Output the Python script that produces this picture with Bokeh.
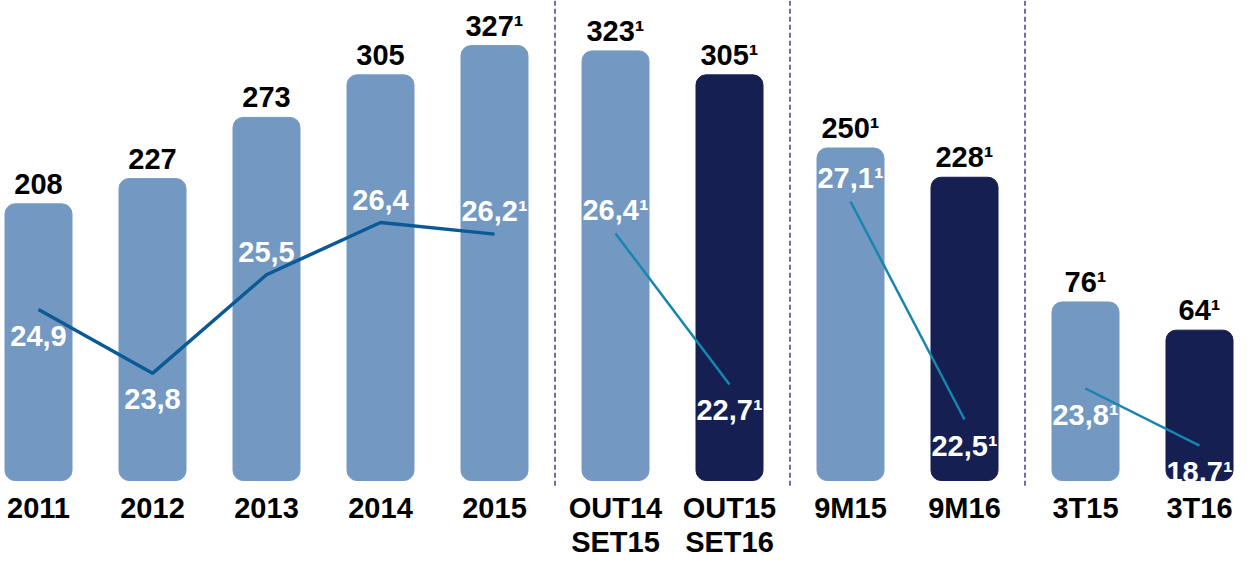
from bokeh.plotting import figure
from bokeh.models import FactorRange, Range1d, ColumnDataSource
from bokeh.core.properties import value
from bokeh.embed import file_html
from bokeh.resources import INLINE

# ---- data ----
GROUPS = ["Anual", "Out-Set", "9M", "3T"]
CATEGORIES = [
    ["2011", "2012", "2013", "2014", "2015"],
    ["OUT14\nSET15", "OUT15\nSET16"],
    ["9M15", "9M16"],
    ["3T15", "3T16"],
]
BAR_VALUES = [[208, 227, 273, 305, 327], [323, 305], [250, 228], [76, 64]]
LINE_VALUES = [[24.9, 23.8, 25.5, 26.4, 26.2], [26.4, 22.7], [27.1, 22.5], [23.8, 18.7]]
FOOTNOTE = [[False, False, False, False, True], [True, True], [True, True], [True, True]]
CURRENT = [[False] * 5, [False, True], [False, True], [False, True]]
LABEL_SIDE = [["below", "below", "above", "above", "above"], ["above", "below"],
              ["above", "below"], ["below", "below"]]

# ---- style ----
FONT = "Liberation Sans"
FS = "29px"
LIGHT = "#7399C2"
DARK = "#151F52"
LINE_COLORS = ["#0B5A96", "#1786AE", "#1786AE", "#1786AE"]
LINE_WIDTHS = [3.5, 2.5, 2.5, 2.5]
BAR_RANGE = ["default", "default", "default", "q"]
MAIN_RANGE = (-59.4, 360.9)
Q_RANGE = (-33.6, 204.3)
LINE_RANGES = [(20.59, 30.228), (18.41, 32.11), (19.547, 31.34), (8.505, 58.505)]
ROW_OFFSETS = [28, 62]

factors = [(g, c) for g, cats in zip(GROUPS, CATEGORIES) for c in cats]
GROUP_PAD = 0.21

p = figure(
    x_range=FactorRange(*factors, factor_padding=0.14, group_padding=GROUP_PAD,
                        range_padding=-0.12, range_padding_units="absolute"),
    y_range=Range1d(*MAIN_RANGE),
    width=1237, height=559, output_backend="svg", toolbar_location=None,
    min_border_left=0, min_border_right=0, min_border_top=0, min_border_bottom=0,
    x_axis_location=None, y_axis_location=None,
)
p.extra_y_ranges = {"q": Range1d(*Q_RANGE)}
for i, (a, b) in enumerate(LINE_RANGES):
    p.extra_y_ranges[f"l{i}"] = Range1d(a, b)

p.outline_line_color = None
p.xgrid.grid_line_color = None
p.ygrid.grid_line_color = None
p.background_fill_color = "white"
p.border_fill_color = "white"


def fmt_int(v, fn):
    return f"{v}" + ("\u00b9" if fn else "")


def fmt_dec(v, fn):
    return f"{v:.1f}".replace(".", ",") + ("\u00b9" if fn else "")


# separators between groups
sep_x = [(g, cats[-1], 0.5 + GROUP_PAD / 2) for g, cats in zip(GROUPS[:-1], CATEGORIES[:-1])]
p.segment(x0=sep_x, x1=sep_x, y0=[-4] * len(sep_x), y1=[MAIN_RANGE[1]] * len(sep_x),
          line_color="#23236E", line_width=1.3, line_dash="5 3")

for gi, (g, cats) in enumerate(zip(GROUPS, CATEGORIES)):
    xs = [(g, c) for c in cats]
    src = ColumnDataSource(dict(
        x=xs,
        top=BAR_VALUES[gi],
        color=[DARK if cur else LIGHT for cur in CURRENT[gi]],
        label=[fmt_int(v, f) for v, f in zip(BAR_VALUES[gi], FOOTNOTE[gi])],
    ))
    rng = BAR_RANGE[gi]
    kw = {} if rng == "default" else {"y_range_name": rng}
    p.vbar(x="x", top="top", bottom=0, width=0.67, source=src, fill_color="color",
           line_color="color", line_width=1, border_radius=10, **kw)
    p.text(x="x", y="top", text="label", source=src, text_font=value(FONT),
           text_font_style="bold", text_font_size=FS, text_color="black",
           text_align="center", text_baseline="alphabetic", y_offset=-20, **kw)

    # category labels below the baseline (one text row per label line)
    rows = [c.split("\n") for c in cats]
    for r, off in enumerate(ROW_OFFSETS):
        rx = [x for x, parts in zip(xs, rows) if len(parts) > r]
        rt = [parts[r] for parts in rows if len(parts) > r]
        if not rt:
            continue
        csrc = ColumnDataSource(dict(x=rx, y=[0] * len(rx), label=rt))
        p.text(x="x", y="y", text="label", source=csrc, text_font=value(FONT),
               text_font_style="bold", text_font_size=FS, text_color="black",
               text_align="center", text_baseline="alphabetic", y_offset=off)

    lsrc = ColumnDataSource(dict(
        x=xs,
        y=LINE_VALUES[gi],
        label=[fmt_dec(v, f) for v, f in zip(LINE_VALUES[gi], FOOTNOTE[gi])],
        yoff=[-23 if s == "above" else 26 for s in LABEL_SIDE[gi]],
    ))
    p.line(x="x", y="y", source=lsrc, line_color=LINE_COLORS[gi],
           line_width=LINE_WIDTHS[gi], y_range_name=f"l{gi}")
    p.text(x="x", y="y", text="label", source=lsrc, text_font=value(FONT),
           text_font_style="bold", text_font_size=FS, text_color="white",
           text_align="center", text_baseline="alphabetic", y_offset="yoff",
           y_range_name=f"l{gi}")

open("out.html", "w").write(file_html(p, INLINE))
